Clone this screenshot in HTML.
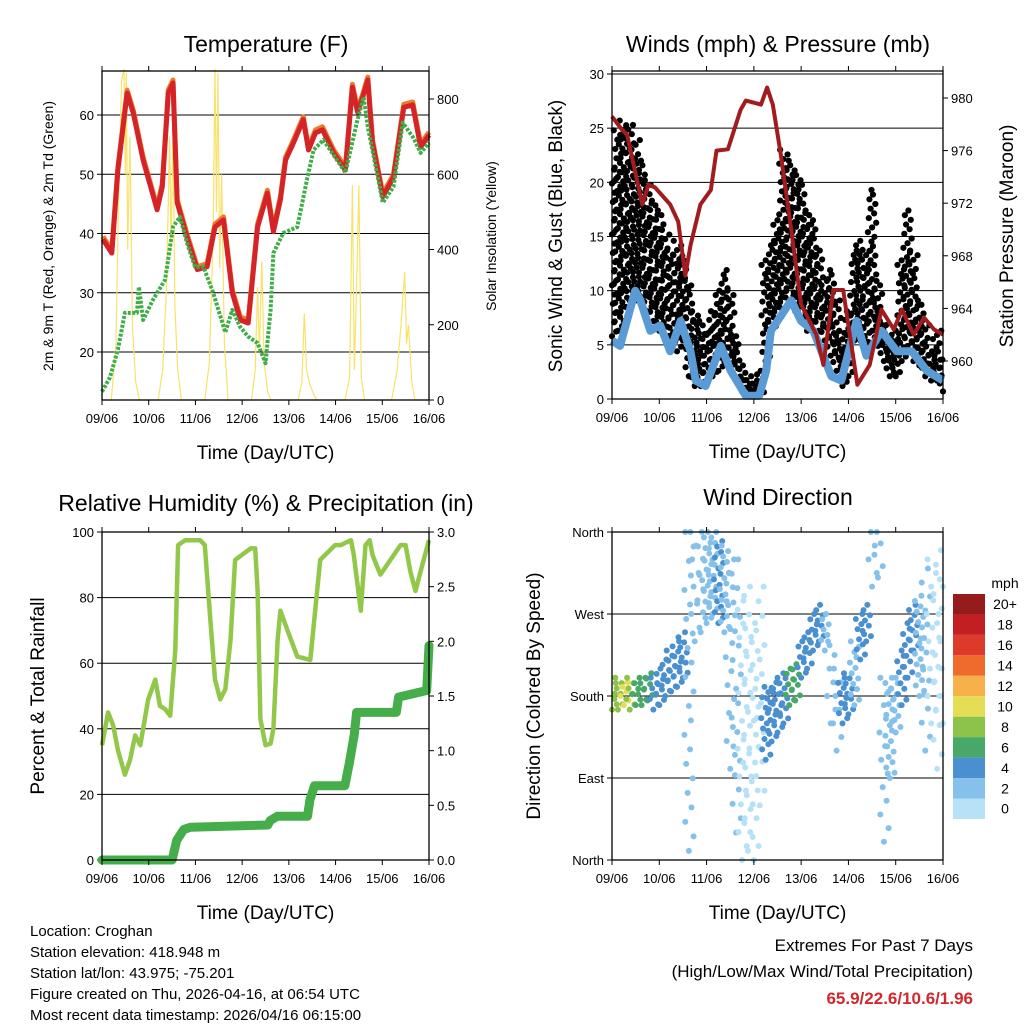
<!DOCTYPE html>
<html><head><meta charset="utf-8"><style>
html,body{margin:0;padding:0;background:#fff;}
svg{display:block;font-family:"Liberation Sans",sans-serif;}
</style></head><body>
<svg id="chart" width="1024" height="1024" viewBox="0 0 1024 1024"></svg>
<script>
// ---------- DATA ----------
const dayLabels = ["09/06","10/06","11/06","12/06","13/06","14/06","15/06","16/06"];
const tempT = [0.02,0.21,0.34,0.54,0.67,0.88,1.18,1.29,1.42,1.52,1.61,1.82,2.04,2.25,2.42,2.6,2.79,2.96,3.13,3.33,3.54,3.67,3.82,3.93,4.1,4.31,4.42,4.57,4.72,4.96,5.21,5.36,5.47,5.58,5.69,5.79,6.01,6.24,6.46,6.65,6.82,7.0];
const tempV = [39,36.7,50.7,63.7,60.3,52.4,44,47.9,63.7,65.4,45.2,39.4,33.9,34.4,41.1,42.3,30,25.4,24.9,41.1,46.8,40.3,45.7,52.4,55.3,59.2,54.1,57,57.5,53.6,50.7,64.7,60.5,63,65.9,55.3,46.2,49.5,61.3,61.7,54.6,56.6];
const dewT = [0,0.17,0.34,0.49,0.75,0.79,0.88,1.09,1.35,1.52,1.67,1.82,1.99,2.17,2.38,2.64,2.79,2.96,3.13,3.33,3.5,3.61,3.67,3.88,4.18,4.4,4.53,4.74,5.21,5.47,5.6,5.69,6.01,6.24,6.44,6.67,6.82,7.0];
const dewV = [13.3,15.7,20.4,26.6,26.6,31,25.4,28.8,32.2,41.1,42.8,38.4,34.4,34.4,30,23.3,27.1,24.2,22.6,21.5,18.1,27.1,36.7,40.1,41.1,49.5,54.1,55.8,50.3,59.2,63,58,45.2,47.9,58.7,56.1,53.6,55.3];
const solarT = [0,0.2,0.3,0.35,0.42,0.47,0.5,0.52,0.55,0.6,0.65,0.72,0.8,1.2,1.3,1.38,1.45,1.48,1.52,1.56,1.62,1.7,2.2,2.3,2.38,2.42,2.45,2.48,2.52,2.56,2.62,2.7,3.2,3.28,3.33,3.37,3.42,3.47,3.55,3.62,4.2,4.28,4.33,4.38,4.45,4.55,4.6,5.2,5.3,5.36,5.4,5.45,5.5,5.55,5.62,6.2,6.32,6.4,6.48,6.52,6.56,6.63,6.7,7.0];
const solarV = [0,0,150,500,850,880,600,870,400,700,200,50,0,0,80,300,700,400,720,250,80,0,0,100,450,880,500,870,350,600,150,0,0,80,300,130,370,100,20,0,0,50,230,80,40,10,0,0,60,570,80,300,570,60,0,0,80,200,340,150,200,50,0,0];
const windT = [0,0.17,0.49,0.6,0.81,1.02,1.23,1.45,1.66,1.77,1.98,2.3,2.51,2.83,3.11,3.26,3.36,3.79,4.0,4.26,4.64,4.85,5.17,5.38,5.7,6.02,6.34,6.66,7.0];
const windV = [5.4,4.9,10,9.1,6.3,6.8,4.4,7.2,4.4,1.7,1.2,4.9,2.6,0.3,0.3,2.6,6.3,9.1,7.2,6.3,2.1,1.7,7.2,4,6.3,4.4,4.4,2.6,1.7];
const gustHi = [21.6,24.8,25.7,25.3,23.9,22,20.2,18.3,17.4,15.6,13.7,14.6,13.2,10.9,8.1,7.2,6.3,8.1,10,11.9,10,5.8,3.1,2.1,1.7,2.6,12.8,14.6,16.5,23,22,21.1,20.2,17.4,16.5,13.7,10.9,11.9,9.1,6.3,8.1,13.7,14.6,13.7,19.3,10.9,7.2,5.4,6.3,12.8,17.4,13.7,9.1,7.2,4.4,6.3,4];
const gustLo = [5.8,6.3,7.2,9.1,9.1,9.1,8.1,7.2,6.3,5.4,4.9,4.4,5.4,2.1,1.2,1.2,1.7,2.1,2.6,3.5,3.1,1.7,0.7,0.3,0.3,0.3,3.5,6.3,7.2,8.1,9.1,8.1,7.2,6.3,7.2,6.3,5.4,4,2.6,1.2,2.1,5.4,5.4,4,6.3,4.9,3.5,2.1,2.1,3.5,4.9,3.5,3.1,2.1,1.7,1.7,0.7];
const presT = [0,0.21,0.32,0.64,0.77,0.91,1.23,1.4,1.55,1.66,1.87,2.09,2.21,2.45,2.72,2.83,3.15,3.28,3.4,3.57,3.79,4.0,4.32,4.47,4.68,4.89,5.0,5.19,5.45,5.7,5.96,6.13,6.38,6.6,6.81,7.0];
const presV = [978.6,977.6,977.2,971.9,973.4,973.2,971.9,970.6,966.5,968.8,971.9,973,976,976.1,979.1,979.8,979.5,980.8,979.5,975.7,970,964.3,962,959.7,965.4,965.4,962.7,958.2,959.7,963.9,962.4,963.9,962,963.3,962.4,962];
const rhT = [0,0.13,0.24,0.34,0.49,0.6,0.71,0.82,0.99,1.14,1.24,1.35,1.46,1.57,1.63,1.78,2.1,2.2,2.32,2.42,2.53,2.64,2.75,2.85,3.18,3.28,3.33,3.39,3.5,3.61,3.67,3.76,3.82,3.97,4.18,4.46,4.67,4.99,5.11,5.33,5.39,5.54,5.64,5.73,5.79,5.96,6.39,6.5,6.6,6.71,6.82,7.0];
const rhV = [35,45,41,33.5,26,30.5,38,35,49,55,47,46,44,64,96,97.5,97.5,96,73,55,49,52,67,91.5,95,95,82,43,35,35.5,40,67,76,70,62,61,91.5,96,96,97.5,93,76,96,97.5,93,87,96,96,88,82,88,97.5];
const precT = [0,1.5,1.6,1.75,1.9,3.55,3.6,3.75,4.4,4.45,4.55,5.2,5.3,5.4,5.45,6.0,6.3,6.35,6.95,7.0];
const precV = [0,0,0.18,0.28,0.3,0.32,0.36,0.4,0.4,0.55,0.68,0.68,0.9,1.15,1.35,1.35,1.35,1.49,1.55,1.96];
const dirLo = [165,165,170,165,170,170,175,165,170,180,185,190,200,10,240,250,260,270,260,250,100,30,0,10,0,60,110,130,140,150,170,175,200,210,230,240,230,150,120,150,160,170,220,240,300,310,20,90,140,170,200,230,180,120,150,100,150];
const dirHi = [200,200,195,200,200,200,205,200,210,220,230,240,250,360,360,360,360,360,350,345,330,330,290,300,260,300,190,195,200,205,210,215,240,250,270,280,270,240,210,200,205,240,270,280,360,360,200,200,200,230,260,280,290,320,330,340,300];
const dirSpd = [8,9,10,8,7,6,6,5,4,5,5,5,4,2,2,2,3,3,4,3,2,2,1,1,1,1,4,4,5,5,6,6,5,5,4,4,3,2,2,4,4,3,4,4,2,2,2,3,3,4,4,4,3,2,1,1,1];
const speedLabels = ["20+","18","16","14","12","10","8","6","4","2","0"];
const speedColors = ["#b7e1f7","#85c1ea","#4a8fd0","#48a86a","#8dc34b","#e5de55","#f7b04a","#ef6b2c","#de3a2c","#c21f23","#961b1c"];

// ---------- HELPERS ----------
const svg = document.getElementById('chart');
const NS = "http://www.w3.org/2000/svg";
function mk(tag, attrs, parent) {
  const e = document.createElementNS(NS, tag);
  for (const k in attrs) e.setAttribute(k, attrs[k]);
  (parent || svg).appendChild(e);
  return e;
}
function txt(str, x, y, size, anchor, extra) {
  const e = mk('text', Object.assign({x: x, y: y, 'font-size': size, 'text-anchor': anchor || 'middle', fill: '#000'}, extra || {}));
  e.textContent = str;
  return e;
}
function lin(d0, d1, r0, r1) { return v => r0 + (v - d0) * (r1 - r0) / (d1 - d0); }
function pathFrom(ts, vs, sx, sy) {
  return ts.map((t, i) => (i ? 'L' : 'M') + sx(t).toFixed(1) + ',' + sy(vs[i]).toFixed(1)).join('');
}
function frame(p, name) {
  const r = mk('rect', {x: p.x0, y: p.y0, width: p.x1 - p.x0, height: p.y1 - p.y0, fill: 'none', stroke: '#000', 'stroke-width': 1.3});
  
  
}
function xAxis(p, name) {
  const sx = lin(0, 7, p.x0, p.x1);
  dayLabels.forEach((lab, i) => {
    const x = sx(i);
    const tb = mk('line', {x1: x, x2: x, y1: p.y1, y2: p.y1 + 5, stroke: '#000'});
    
    
    const tt = mk('line', {x1: x, x2: x, y1: p.y0, y2: p.y0 - 5, stroke: '#000'});
    
    
    const t = txt(lab, x, p.y1 + 23, 13);
    
    
  });
  const at = txt('Time (Day/UTC)', (p.x0 + p.x1) / 2, p.y1 + 59, 19);
  
  
}
function yTicks(p, vals, labels, sy, side, name, grid) {
  vals.forEach((v, i) => {
    const y = sy(v);
    if (grid) {
      const g = mk('line', {x1: p.x0, x2: p.x1, y1: y, y2: y, stroke: '#000', 'stroke-width': 1});
      
      
    }
    const x = side === 'left' ? p.x0 : p.x1;
    const d = side === 'left' ? -5 : 5;
    const tk = mk('line', {x1: x, x2: x + d, y1: y, y2: y, stroke: '#000'});
    
    
    const t = txt(labels[i], side === 'left' ? x - 8 : x + 8, y + 5, 13, side === 'left' ? 'end' : 'start');
    
    
  });
}
function vtitle(str, x, y, size, name) {
  const t = txt(str, x, y, size, 'middle', {transform: 'rotate(-90 ' + x + ' ' + y + ')'});
  
  
}
function title(str, x, y, name) {
  const t = txt(str, x, y, 23);
  
  
}

// ---------- PANEL 1: TEMPERATURE ----------
(function () {
  const p = {x0: 102, x1: 429, y0: 71, y1: 400};
  const sx = lin(0, 7, p.x0, p.x1);
  const sy = lin(20, 60, 352, 115);
  const ss = lin(0, 800, 400, 99);
  title('Temperature (F)', 266, 52, 'temperature-title');
  yTicks(p, [20, 30, 40, 50, 60], ['20', '30', '40', '50', '60'], sy, 'left', 'temp', true);
  yTicks(p, [0, 200, 400, 600, 800], ['0', '200', '400', '600', '800'], ss, 'right', 'solar', false);
  const s = mk('path', {d: pathFrom(solarT, solarV, sx, ss), fill: 'none', stroke: '#f8e26a', 'stroke-width': 1.2});
  
  
  const o = mk('path', {d: pathFrom(tempT, tempV.map(v => v + 0.5), sx, sy), fill: 'none', stroke: '#f07a2a', 'stroke-width': 5, 'stroke-linejoin': 'round'});
  
  
  const r = mk('path', {d: pathFrom(tempT, tempV, sx, sy), fill: 'none', stroke: '#d42427', 'stroke-width': 5, 'stroke-linejoin': 'round'});
  
  
  const g = mk('path', {d: pathFrom(dewT, dewV, sx, sy), fill: 'none', stroke: '#3fae49', 'stroke-width': 4, 'stroke-dasharray': '3 1.5', 'stroke-linejoin': 'round'});
  
  
  frame(p, 'temperature');
  xAxis(p, 'temperature');
  vtitle('2m & 9m T (Red, Orange) & 2m Td (Green)', 53, 236, 14, 'temp-y-axis-title');
  vtitle('Solar Insolation (Yellow)', 496, 236, 14, 'solar-y-axis-title');
})();

// ---------- PANEL 2: WINDS & PRESSURE ----------
(function () {
  const p = {x0: 612, x1: 943, y0: 71, y1: 399};
  const sx = lin(0, 7, p.x0, p.x1);
  const sy = lin(0, 30, 399, 74);
  const sp = lin(960, 980, 361, 98);
  title('Winds (mph) & Pressure (mb)', 778, 52, 'winds-title');
  yTicks(p, [0, 5, 10, 15, 20, 25, 30], ['0', '5', '10', '15', '20', '25', '30'], sy, 'left', 'wind', true);
  yTicks(p, [960, 964, 968, 972, 976, 980], ['960', '964', '968', '972', '976', '980'], sp, 'right', 'pressure', false);
  const pat = [0, 0.7, -0.55, 0.35, -0.25, 0.55, -0.45, 0.15, -0.1, 0.4, -0.7];
  gustHi.forEach((hi, k) => {
    const lo = gustLo[k];
    const n = Math.ceil((hi - lo) / 0.45) + 2;
    for (let j = 0; j < n; j++) {
      const v = lo + (hi - lo) * j / (n - 1);
      const t = k * 0.125 + pat[j % pat.length] * 0.125;
      if (t < 0 || t > 7) continue;
      const c = mk('circle', {cx: sx(t), cy: sy(v), r: 3.1, fill: '#000'});
      
      
    }
  });
  const w = mk('path', {d: pathFrom(windT, windV, sx, sy), fill: 'none', stroke: '#5b9bd5', 'stroke-width': 8, 'stroke-linejoin': 'round'});
  
  
  const pr = mk('path', {d: pathFrom(presT, presV, sx, sp), fill: 'none', stroke: '#a01c1f', 'stroke-width': 4, 'stroke-linejoin': 'round'});
  
  
  frame(p, 'winds');
  const dl = mk('line', {x1: p.x0, x2: p.x1, y1: 74, y2: 74, stroke: '#000'});
  
  
  xAxis(p, 'winds');
  vtitle('Sonic Wind & Gust (Blue, Black)', 562, 236, 19, 'wind-y-axis-title');
  vtitle('Station Pressure (Maroon)', 1013, 236, 19, 'pressure-y-axis-title');
})();

// ---------- PANEL 3: RH & PRECIP ----------
(function () {
  const p = {x0: 102, x1: 429, y0: 532, y1: 860};
  const sx = lin(0, 7, p.x0, p.x1);
  const sy = lin(0, 100, 860, 532);
  const sr = lin(0, 3, 860, 532);
  title('Relative Humidity (%) & Precipitation (in)', 266, 511, 'humidity-title');
  yTicks(p, [0, 20, 40, 60, 80, 100], ['0', '20', '40', '60', '80', '100'], sy, 'left', 'rh', true);
  yTicks(p, [0, 0.5, 1, 1.5, 2, 2.5, 3], ['0.0', '0.5', '1.0', '1.5', '2.0', '2.5', '3.0'], sr, 'right', 'precip', false);
  const h = mk('path', {d: pathFrom(rhT, rhV, sx, sy), fill: 'none', stroke: '#92c84a', 'stroke-width': 4.5, 'stroke-linejoin': 'round'});
  
  
  const pc = mk('path', {d: pathFrom(precT, precV, sx, sr), fill: 'none', stroke: '#45ad4a', 'stroke-width': 9, 'stroke-linejoin': 'round', 'stroke-linecap': 'round'});
  
  
  frame(p, 'humidity');
  xAxis(p, 'humidity');
  vtitle('Percent & Total Rainfall', 44, 696, 19, 'rh-y-axis-title');
})();

// ---------- PANEL 4: WIND DIRECTION ----------
(function () {
  const p = {x0: 612, x1: 943, y0: 532, y1: 860};
  const sx = lin(0, 7, p.x0, p.x1);
  const sy = lin(0, 360, 860, 532);
  title('Wind Direction', 778, 505, 'wind-direction-title');
  yTicks(p, [0, 90, 180, 270, 360], ['North', 'East', 'South', 'West', 'North'], sy, 'left', 'direction', true);
  const pat = [0, 0.8, -0.6, 0.45, -0.2, 0.65, -0.45, 0.2, -0.75, 0.35];
  dirLo.forEach((lo, k) => {
    const hi = dirHi[k];
    const spd = dirSpd[k];
    const step = spd <= 2 ? 16 : 6;
    const n = Math.max(2, Math.ceil((hi - lo) / step) + 1);
    const col = speedColors[Math.min(10, Math.floor(spd / 2))];
    for (let j = 0; j < n; j++) {
      const v = lo + (hi - lo) * j / (n - 1);
      const t = k * 0.125 + pat[j % pat.length] * 0.125;
      if (t < 0 || t > 7) continue;
      const c = mk('circle', {cx: sx(t), cy: sy(v), r: 3, fill: col});
      
      
    }
  });
  frame(p, 'wind-direction');
  xAxis(p, 'wind-direction');
  vtitle('Direction (Colored By Speed)', 540, 696, 19, 'direction-y-axis-title');
  const u = txt('mph', 1005, 588, 14);
  
  
  const bh = 20.45;
  speedLabels.forEach((lab, i) => {
    const y = 594 + i * bh;
    const b = mk('rect', {x: 953, y: y, width: 32, height: bh, fill: speedColors[10 - i]});
    
    
    const t = txt(lab, 1005, y + bh / 2 + 5, 14);
    
    
  });
})();

// ---------- FOOTER ----------
const footLines = ["Location: Croghan", "Station elevation: 418.948 m", "Station lat/lon: 43.975; -75.201", "Figure created on Thu, 2026-04-16, at 06:54 UTC", "Most recent data timestamp: 2026/04/16 06:15:00"];
footLines.forEach((s, i) => {
  const t = txt(s, 30, 936 + i * 21, 15, 'start');
  
  
});
const e1 = txt('Extremes For Past 7 Days', 973, 951, 17, 'end');


const e2 = txt('(High/Low/Max Wind/Total Precipitation)', 973, 977, 17, 'end');


const e3 = txt('65.9/22.6/10.6/1.96', 973, 1004, 17, 'end', {fill: '#d0282c', 'font-weight': 'bold'});


</script>
</body></html>
